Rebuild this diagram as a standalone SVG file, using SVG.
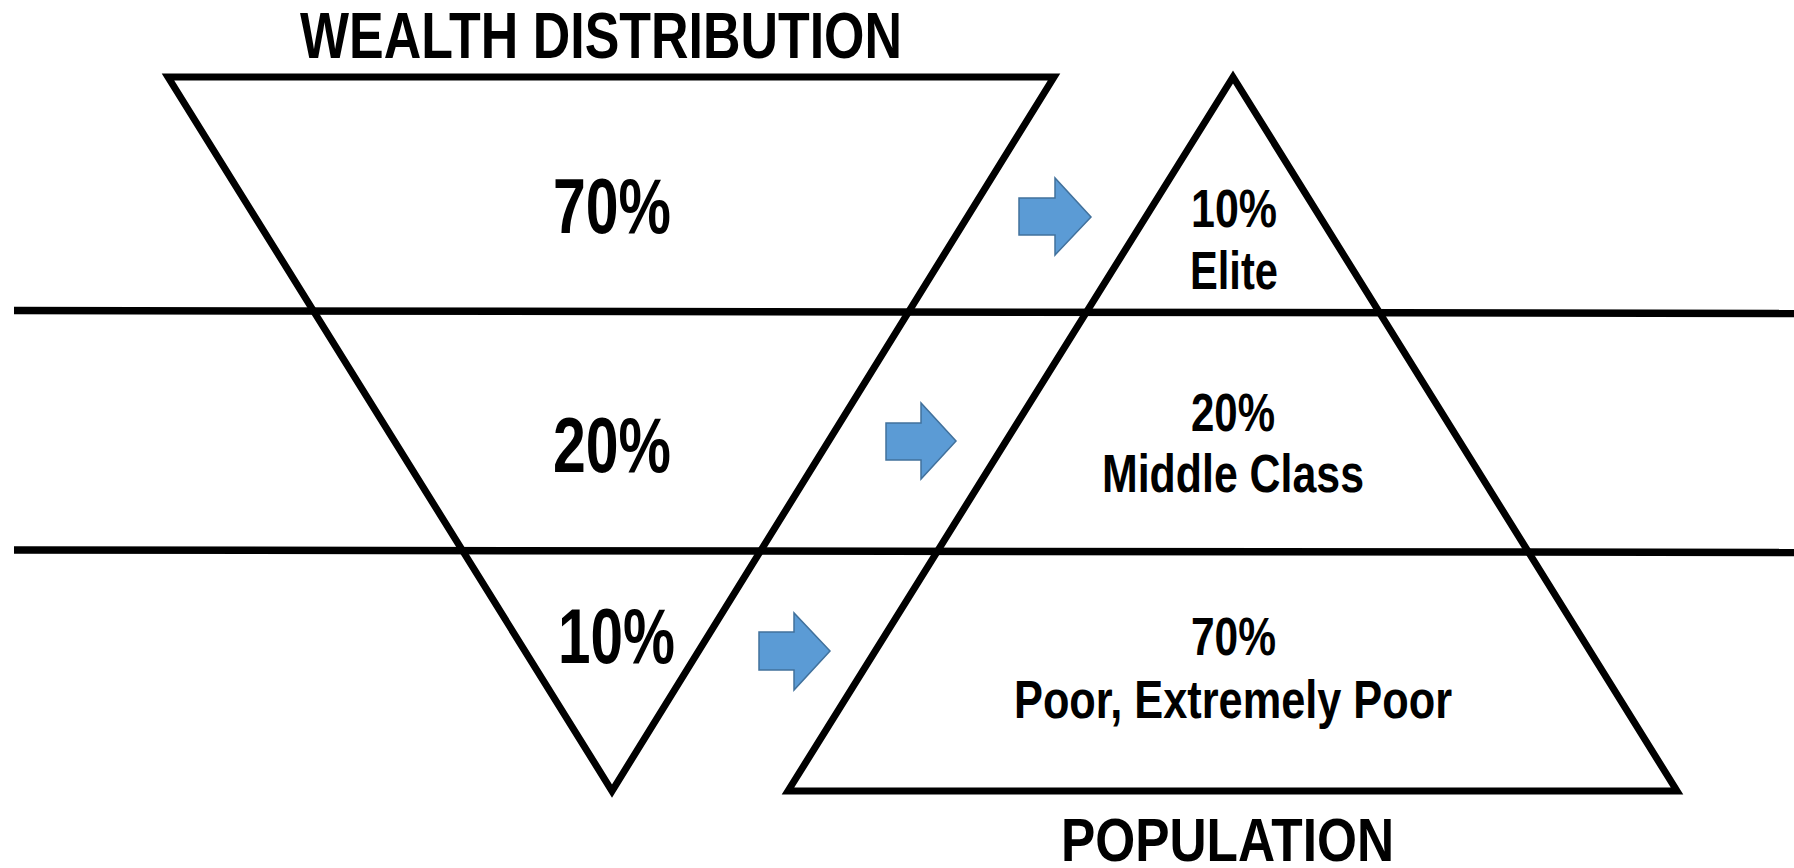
<svg xmlns="http://www.w3.org/2000/svg" width="1794" height="868" viewBox="0 0 1794 868">
<style>
.shape{fill:none;stroke:#000;stroke-width:7;stroke-linejoin:miter;stroke-miterlimit:10}
.band{fill:none;stroke:#000;stroke-width:7.5}
.arrow{fill:#5B9BD5;stroke:#41719C;stroke-width:1.5;stroke-linejoin:miter}
text{font-family:"Liberation Sans",Arial,sans-serif;font-weight:bold;fill:#000}
.big{font-size:77px}
.lbl{font-size:53px}
.ttl{font-size:64px}
</style>
<rect width="1794" height="868" fill="#fff"/>
<g id="wealth-triangle">
  <path class="shape" d="M168,77 L1054,77 L612,791 Z"/>
  <text class="big" x="553" y="233" textLength="118" lengthAdjust="spacingAndGlyphs">70%</text>
  <text class="big" x="553" y="472" textLength="118" lengthAdjust="spacingAndGlyphs">20%</text>
  <text class="big" x="558" y="663" textLength="117" lengthAdjust="spacingAndGlyphs">10%</text>
</g>
<g id="population-triangle">
  <path class="shape" d="M1233,77 L1677,791 L788,791 Z"/>
  <text class="lbl" x="1191" y="227" textLength="86" lengthAdjust="spacingAndGlyphs">10%</text>
  <text class="lbl" x="1190" y="289" textLength="88" lengthAdjust="spacingAndGlyphs">Elite</text>
  <text class="lbl" x="1191" y="431" textLength="84" lengthAdjust="spacingAndGlyphs">20%</text>
  <text class="lbl" x="1102" y="492" textLength="262" lengthAdjust="spacingAndGlyphs">Middle Class</text>
  <text class="lbl" x="1191" y="655" textLength="85" lengthAdjust="spacingAndGlyphs">70%</text>
  <text class="lbl" x="1014" y="718" textLength="438" lengthAdjust="spacingAndGlyphs">Poor, Extremely Poor</text>
</g>
<g id="title-wealth">
  <text class="ttl" x="300" y="58" textLength="602" lengthAdjust="spacingAndGlyphs">WEALTH DISTRIBUTION</text>
</g>
<g id="title-population">
  <text class="ttl" x="1061" y="861" style="font-size:62px" textLength="333" lengthAdjust="spacingAndGlyphs">POPULATION</text>
</g>
<g id="bands">
  <path class="band" d="M14,310.5 L1794,313.5"/>
  <path class="band" d="M14,550 L1794,552.5"/>
</g>
<g id="connectors">
  <path class="arrow" d="M1019,198 H1055 V178 L1091,217 L1055,255 V235 H1019 Z"/>
  <path class="arrow" d="M886,423 H921 V403 L956,441 L921,479 V460 H886 Z"/>
  <path class="arrow" d="M759,632 H794 V613 L830,651 L794,690 V670 H759 Z"/>
</g>
</svg>
